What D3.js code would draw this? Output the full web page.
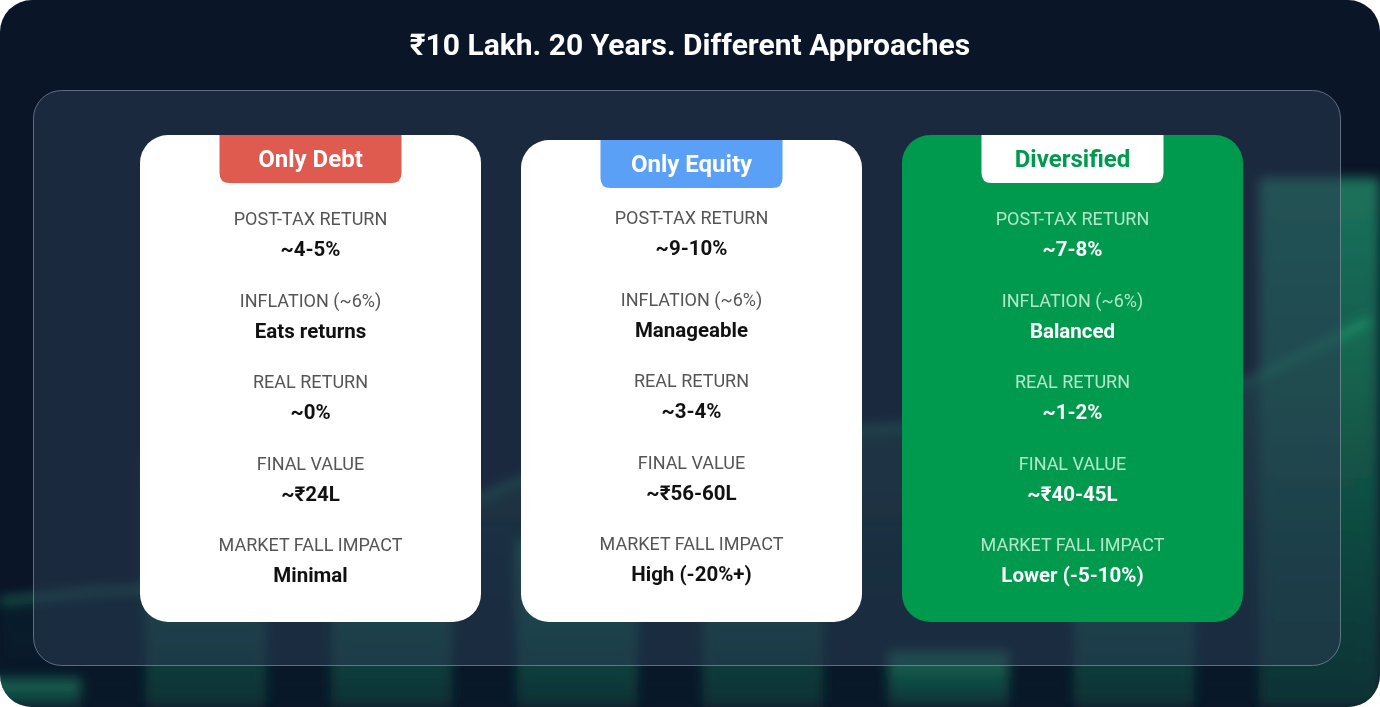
<!DOCTYPE html>
<html><head><meta charset="utf-8">
<script src="https://cdn.jsdelivr.net/npm/d3@7"></script>
<style>html,body{margin:0;padding:0;background:#fff;}svg{display:block;font-family:Roboto,"Noto Sans",sans-serif;}</style>
</head><body><svg id="c" width="1380" height="707"></svg>
<script>
const title = "₹10 Lakh. 20 Years. Different Approaches";
const approaches = ["Only Debt", "Only Equity", "Diversified"];
const metrics = ["POST-TAX RETURN", "INFLATION (~6%)", "REAL RETURN", "FINAL VALUE", "MARKET FALL IMPACT"];
const debtValues = ["~4-5%", "Eats returns", "~0%", "~₹24L", "Minimal"];
const equityValues = ["~9-10%", "Manageable", "~3-4%", "~₹56-60L", "High (-20%+)"];
const diversifiedValues = ["~7-8%", "Balanced", "~1-2%", "~₹40-45L", "Lower (-5-10%)"];
// decorative background bars (relative heights)
const bgBars = [0.05, 0.45, 0.35, 0.3, 0.45, 0.1, 0.4, 0.95];

const svg = d3.select("#c");
const defs = svg.append("defs");
defs.append("filter").attr("id","blur").attr("x","-20%").attr("y","-20%").attr("width","140%").attr("height","140%")
  .append("feGaussianBlur").attr("stdDeviation", 6);
defs.append("clipPath").attr("id","clip").append("rect").attr("width",1380).attr("height",707).attr("rx",32);
const g0 = defs.append("linearGradient").attr("id","barg").attr("x1",0).attr("y1",0).attr("x2",0).attr("y2",1);
g0.append("stop").attr("offset",0).attr("stop-color","#1f8a68");
g0.append("stop").attr("offset",1).attr("stop-color","#0c3b3a");
const g1 = defs.append("linearGradient").attr("id","areag").attr("x1",0).attr("y1",0).attr("x2",0).attr("y2",1);
g1.append("stop").attr("offset",0).attr("stop-color","#1b7a55").attr("stop-opacity",0.8);
g1.append("stop").attr("offset",1).attr("stop-color","#0a2a2e").attr("stop-opacity",0.2);

const root = svg.append("g").attr("clip-path","url(#clip)");
root.append("rect").attr("width",1380).attr("height",707).attr("fill","#0b1528");

const bx = d3.scaleBand().domain(d3.range(bgBars.length)).range([-40,1380]).paddingInner(0.35);
const by = d3.scaleLinear().domain([0,1]).range([707,150]);
const deco = root.append("g").attr("filter","url(#blur)");
deco.selectAll("rect").data(bgBars).join("rect")
  .attr("x",(d,i)=>bx(i)).attr("width",bx.bandwidth())
  .attr("y",d=>by(d)).attr("height",d=>707-by(d)).attr("fill","url(#barg)").attr("opacity",0.8);
const linePts = [[0,600],[100,590],[230,585],[330,560],[520,480],[690,440],[1000,420],[1250,380],[1370,320]];
deco.append("path").attr("d", d3.area().x(d=>d[0]).y0(707).y1(d=>d[1]).curve(d3.curveLinear)(linePts))
  .attr("fill","url(#areag)").attr("opacity",0.6);
deco.append("path").attr("d", d3.line()(linePts)).attr("fill","none").attr("stroke","#2fd08a").attr("stroke-width",2);

svg.append("text").attr("x",690).attr("y",55).attr("text-anchor","middle").attr("fill","#fff")
  .attr("font-size",30).attr("font-weight",700).text(title);

svg.append("rect").attr("x",33.5).attr("y",90.5).attr("width",1307).attr("height",575).attr("rx",28)
  .attr("fill","#2a3a52").attr("fill-opacity",0.55).attr("stroke","#8fa0b5").attr("stroke-opacity",0.6);

const cardX = d3.scaleBand().domain(approaches).range([140,1243]).paddingInner(0.105);
const values = [debtValues, equityValues, diversifiedValues];
const styles = [
  {bg:"#fff", badge:"#e05b4f", badgeText:"#fff", lab:"#555", val:"#111", top:135, dy:0},
  {bg:"#fff", badge:"#5aa0f6", badgeText:"#fff", lab:"#555", val:"#111", top:140, dy:-1},
  {bg:"#009a4e", badge:"#fff", badgeText:"#009a4e", lab:"#b6e6c8", val:"#fff", top:135, dy:0}
];
const rowY = d3.scaleLinear().domain([0,4]).range([218,544]);

approaches.forEach((a,i)=>{
  const s = styles[i], x = cardX(a), w = cardX.bandwidth(), cx = x + w/2;
  const g = svg.append("g");
  g.append("rect").attr("x",x).attr("y",s.top).attr("width",w).attr("height",622-s.top).attr("rx",28).attr("fill",s.bg);
  g.append("path").attr("d",`M${cx-91},${s.top} H${cx+91} V${s.top+38} Q${cx+91},${s.top+48} ${cx+81},${s.top+48} H${cx-81} Q${cx-91},${s.top+48} ${cx-91},${s.top+38} Z`)
    .attr("fill",s.badge);
  g.append("text").attr("x",cx).attr("y",s.top+32).attr("text-anchor","middle").attr("fill",s.badgeText)
    .attr("font-size",24).attr("font-weight",700).text(a);
  metrics.forEach((m,j)=>{
    const y = rowY(j) + s.dy;
    g.append("text").attr("x",cx).attr("y",y+7).attr("text-anchor","middle").attr("fill",s.lab).attr("font-size",18).text(m);
    g.append("text").attr("x",cx).attr("y",y+38).attr("text-anchor","middle").attr("fill",s.val).attr("font-size",20.5).attr("font-weight",700).text(values[i][j]);
  });
});
</script></body></html>
